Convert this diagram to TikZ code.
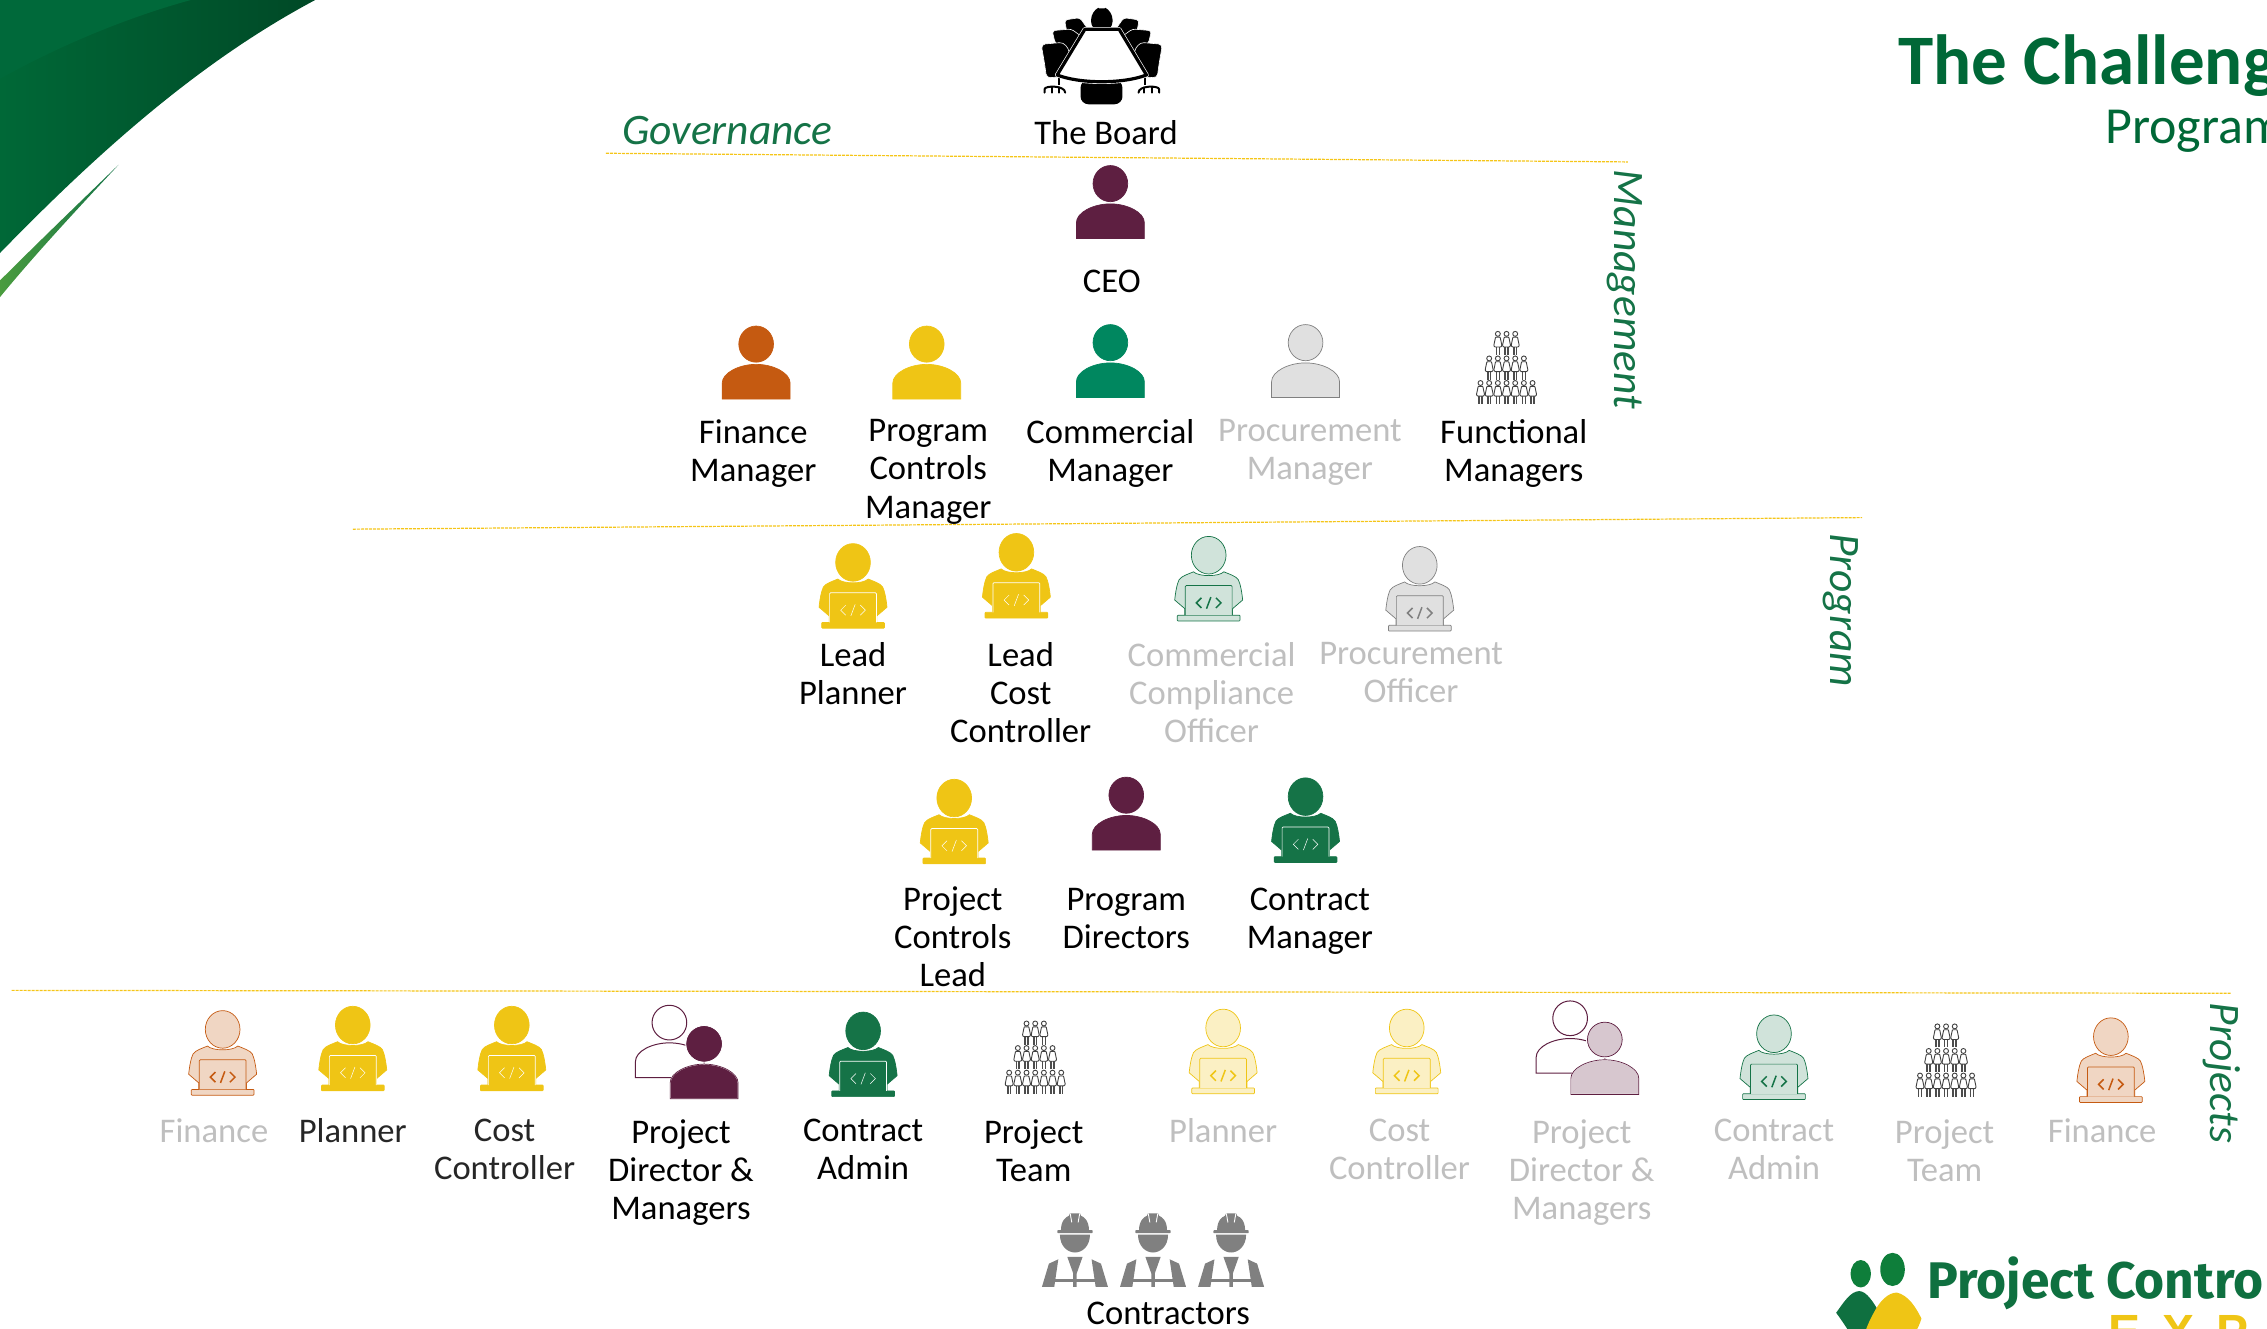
\documentclass[tikz,border=0pt]{standalone}
\usepackage{fontspec}
\setmainfont{Carlito}
\newfontfamily\logofont{Fira Sans}
\newfontfamily\expofont{Liberation Sans}
\definecolor{cPurple}{HTML}{5E1F41}
\definecolor{cOrange}{HTML}{C55A11}
\definecolor{cYellow}{HTML}{EFC515}
\definecolor{cTeal}{HTML}{00875F}
\definecolor{cGreen}{HTML}{157347}
\definecolor{cTitle}{HTML}{006837}
\definecolor{cGrey}{HTML}{BFBFBF}
\definecolor{cLine}{HTML}{F5C518}
\definecolor{cLogo}{HTML}{0F7040}
\definecolor{cStripe}{HTML}{4A9C3F}
\definecolor{cSwoosh}{HTML}{00693A}
\tikzset{
  lbl/.style={anchor=north,inner sep=0pt,align=center,yshift=15pt,text=black,
    font=\fontsize{34.6}{38.2}\selectfont,execute at begin node=\strut},
  lblgrey/.style={lbl,text=cGrey},
  multi/.style={yshift=-3.5pt},
  side/.style={text=cGreen,inner sep=0pt,font=\fontsize{43.5}{48}\selectfont\itshape},
  rule/.style={draw=cLine,line width=1.2pt,dash pattern=on 3pt off 1pt},
  pics/person/.style 2 args={code={
    \path[fill=#1,draw=#2,line width=.7pt] (0,0) ellipse (12 and 12.5);
    \path[fill=#1,draw=#2,line width=.7pt] (-23.5,38) -- (-23.5,27)
      .. controls (-23.5,20) and (-12,14) .. (0,14)
      .. controls (12,14) and (23.5,20) .. (23.5,27) -- (23.5,38) -- cycle;
  }},
  pics/lapper/.style n args={4}{code={
    \path[fill=#1,draw=#2,line width=.7pt] (0,0) ellipse (12 and 13);
    \path[fill=#1,draw=#2,line width=.7pt] (-23.5,31)
      .. controls (-23,26) and (-22,20) .. (-20.5,17)
      .. controls (-19,14.5) and (-14,13) .. (-10.5,11.5)
      .. controls (-7,15) and (7,15) .. (10.5,11.5)
      .. controls (14,13) and (19,14.5) .. (20.5,17)
      .. controls (22,20) and (23,26) .. (23.5,31)
      -- (16.5,37) -- (16.5,42) -- (-16.5,42) -- (-16.5,37) -- cycle;
    \path[fill=#1,draw=#2,line width=.7pt,rounded corners=.8pt] (-21.7,41.5) -- (21.7,41.5) -- (21.7,45.5) -- (-21.7,45.5) -- cycle;
    \path[fill=#1,draw=#3,line width=.7pt,rounded corners=1pt] (-16.2,41.5) -- (-16.2,21) -- (16.2,21) -- (16.2,41.5);
    \draw[#3,line width=#4] (-5,29.5) -- (-8.5,33) -- (-5,36.5);
    \draw[#3,line width=#4] (5,29.5) -- (8.5,33) -- (5,36.5);
    \draw[#3,line width=#4] (1.5,29) -- (-1.5,37);
  }},
  pics/duo/.style 2 args={code={
    \path[fill=white,draw=cPurple,line width=1pt] (-24,-14.7) ellipse (12 and 12);
    \path[fill=white,draw=cPurple,line width=1pt] (-47.5,23.3) -- (-47.5,12.3)
      .. controls (-47.5,5) and (-36,-.7) .. (-24,-.7)
      .. controls (-12,-.7) and (0,5) .. (0,12.3) -- (0,23.3) -- cycle;
    \path[fill=#1,draw=white,line width=1.2pt] (0,0) ellipse (12.6 and 12.6);
    \path[fill=#1,draw=#2,line width=.7pt] (0,0) ellipse (12 and 12);
    \path[fill=#1,draw=white,line width=1pt] (-23.5,38) -- (-23.5,27)
      .. controls (-23.5,20) and (-12,14) .. (0,14)
      .. controls (12,14) and (23.5,20) .. (23.5,27) -- (23.5,38) -- cycle;
    \path[draw=#2,line width=.7pt] (-23.5,38) -- (-23.5,27)
      .. controls (-23.5,20) and (-12,14) .. (0,14)
      .. controls (12,14) and (23.5,20) .. (23.5,27) -- (23.5,38) -- cycle;
  }},
  pics/crowd/.style={code={
    \foreach \r/\n in {0/3,1/5,2/7}{
      \pgfmathsetmacro{\xs}{-(\n-1)*3}
      \foreach \i in {1,...,\n}{
        \begin{scope}[shift={(\xs+6*\i-6,17*\r)}]
          \draw[line width=.9pt,draw=black!75,fill=white] (0,1.9) circle (1.7);
          \draw[line width=1.6pt,draw=black!70] (-1,10) -- (-1,16.5);
          \draw[line width=1.6pt,draw=black!70] (1,10) -- (1,16.5);
          \draw[line width=.9pt,draw=black!75,fill=white,rounded corners=.6pt] (-1.6,4.2) -- (1.6,4.2) -- (2.8,10) -- (2.1,11) -- (-2.1,11) -- (-2.8,10) -- cycle;
        \end{scope}
      }
    }
  }},
  pics/worker/.style={code={
    \fill[black!50] (-9.7,-1) .. controls (-9.7,-8) and (-6,-10.5) .. (-4.3,-11)
      -- (-3.5,-12.7) -- (3.5,-12.7) -- (4.3,-11) .. controls (6,-10.5) and (9.7,-8) .. (9.7,-1) -- cycle;
    \draw[white,line width=.9pt] (-3.3,-12.7) -- (-2.2,-6.5);
    \draw[white,line width=.9pt] (3.3,-12.7) -- (2.2,-6.5);
    \fill[black!50,rounded corners=.6pt] (-12.2,-1.1) rectangle (12.2,.9);
    \fill[black!50] (-10.4,1.9) -- (10.4,1.9) .. controls (10.4,10) and (5,14.3) .. (0,14.3) .. controls (-5,14.3) and (-10.4,10) .. (-10.4,1.9) -- cycle;
    \fill[black!50] (-22.8,38) -- (-18,22) -- (-11.5,19) -- (-14.3,38) -- cycle;
    \fill[black!50] (22.8,38) -- (18,22) -- (11.5,19) -- (14.3,38) -- cycle;
    \fill[black!50] (-5.3,17.3) -- (5.3,17.3) -- (1.2,28.8) -- (1.2,38) -- (-1.2,38) -- (-1.2,28.8) -- cycle;
    \fill[black!50] (-14,32.7) rectangle (14,35);
  }},
  pics/board/.style={code={
    \begin{scope}[x=.3332pt,y=-.3332pt]
      \foreach \m in {1,-1}{
        \begin{scope}[xshift=456*.3332pt,x=\m*.3332pt]
          \path[fill=black,draw=white,line width=.6pt,rounded corners=3pt] (-112,60) -- (-66,53) -- (-40,90) -- (-80,120) -- (-105,95) -- cycle;
          \path[fill=black,draw=white,line width=.6pt,rounded corners=3pt] (-149,92) -- (-92,87) -- (-60,110) -- (-90,160) -- (-140,130) -- cycle;
          \path[fill=black,draw=white,line width=.6pt,rounded corners=4pt] (-182,133) -- (-115,127) -- (-95,155) -- (-120,230) -- (-166,234) -- (-172,190) -- cycle;
          \draw[line width=2pt] (-130,225) -- (-130,256);
          \draw[line width=2pt,line cap=round] (-172,278) -- (-172,268) .. controls (-172,256) and (-110,256) .. (-110,278);
          \draw[line width=2pt,line cap=round] (-150,262) -- (-150,278);
          \draw[line width=2pt,line cap=round] (-128,262) -- (-128,278);
        \end{scope}
      }
      \fill[rounded corners=8pt] (424,90) -- (424,34) .. controls (440,26) and (472,26) .. (488,34) -- (488,90) -- cycle;
      \fill[rounded corners=8pt] (392,240) rectangle (518,313);
      \path[draw=white,line width=4.5pt,line join=round] (405,88) -- (508,88) -- (590,225) .. controls (520,252) and (390,252) .. (322,225) -- cycle;
      \path[fill=white,draw=black,line width=3.2pt,line join=round] (405,88) -- (508,88) -- (590,225) .. controls (520,252) and (390,252) .. (322,225) -- cycle;
    \end{scope}
  }},
}
\begin{document}
\begin{tikzpicture}[x=1.4458pt,y=-1.4458pt]
\useasboundingbox (0,0) rectangle (1568,919);
\begin{scope}
\clip (0,0) rectangle (1568,919);
% swoosh
\shade[left color=cTitle,right color=cTitle!70!black] (0,0) -- (218,0)
  .. controls (139,42) and (69,104) .. (0,175) -- cycle;
\fill[cSwoosh] (0,0) -- (132,0) .. controls (88,12) and (40,32) .. (0,54.6) -- cycle;
\shade[left color=cStripe,right color=cGreen] (0,194)
  .. controls (25,169) and (55,140) .. (82,114)
  .. controls (55,143) and (25,175) .. (0,205.5) -- cycle;
% title
\node[anchor=base west,inner sep=0pt,text=cTitle,font=\fontsize{71}{76}\selectfont\bfseries] (title) at (1313,58.5) {The Challeng};
\node[anchor=base west,inner sep=0pt,text=cTitle,font=\fontsize{52}{56}\selectfont] (subtitle) at (1456,99) {Program};
% rules
\coordinate (g1) at (419,106); \coordinate (g2) at (1126,112);
\coordinate (m1) at (244,366); \coordinate (m2) at (1288,358);
\coordinate (p1) at (8,685);   \coordinate (p2) at (1543,687);
\draw[rule] (g1) -- (g2);
\draw[rule] (m1) -- (m2);
\draw[rule] (p1) -- (p2);
% side labels
\node[side] (gov) at (503,90) {Governance};
\node[side,rotate=-90] (mgmt) at (1124,200) {Management};
\node[side,rotate=-90] (prog) at (1273,422) {Program};
\node[side,rotate=-90] (proj) at (1537,742) {Projects};
% board
\pic at (657,0) {board};
\node[lbl] (nBoard) at (765,92) {The Board};
% management
\pic at (768,127) {person={cPurple}{cPurple}};
\node[lbl] (nCEO) at (769,194) {CEO};
\pic at (523,238) {person={cOrange}{cOrange}};
\node[lbl,multi] (nFin) at (521,298) {Finance\\Manager};
\pic at (641,238) {person={cYellow}{cYellow}};
\node[lbl,multi] (nPCM) at (642,298) {Program\\Controls\\Manager};
\pic at (768,237) {person={cTeal}{cTeal}};
\node[lbl,multi] (nCom) at (768,298) {Commercial\\Manager};
\pic at (903,237) {person={black!12}{black!50}};
\node[lblgrey,multi] (nPro) at (906,298) {Procurement\\Manager};
\pic at (1042,229) {crowd};
\node[lbl,multi] (nFun) at (1047,298) {Functional\\Managers};
% program row 1
\pic at (590,389) {lapper={cYellow}{cYellow}{white}{.5pt}};
\node[lbl,multi] (nLP) at (590,452) {Lead\\Planner};
\pic at (703,382) {lapper={cYellow}{cYellow}{white}{.5pt}};
\node[lbl,multi] (nLC) at (706,452) {Lead\\Cost\\Controller};
\pic at (836,384) {lapper={cGreen!20}{cGreen}{cGreen}{1.5pt}};
\node[lblgrey,multi] (nCCO) at (838,452) {Commercial\\Compliance\\Officer};
\pic at (982,391) {lapper={black!12}{black!50}{black!50}{1.5pt}};
\node[lblgrey,multi] (nPO) at (976,452) {Procurement\\Officer};
% program row 2
\pic at (660,552) {lapper={cYellow}{cYellow}{white}{.5pt}};
\node[lbl,multi] (nPCL) at (659,621) {Project\\Controls\\Lead};
\pic at (779,550) {person={cPurple}{cPurple}};
\node[lbl,multi] (nPD) at (779,622) {Program\\Directors};
\pic at (903,551) {lapper={cGreen}{cGreen}{white}{.5pt}};
\node[lbl,multi] (nCM) at (906,622) {Contract\\Manager};
% projects
\pic at (154,712) {lapper={cOrange!25}{cOrange}{cOrange}{1.5pt}};
\node[lblgrey] (n1) at (148,782) {Finance};
\pic at (244,709) {lapper={cYellow}{cYellow}{white}{.5pt}};
\node[lbl,text=black!85] (n2) at (244,782) {Planner};
\pic at (354,709) {lapper={cYellow}{cYellow}{white}{.5pt}};
\node[lbl,multi,text=black!85] (n3) at (349,782) {Cost\\Controller};
\pic at (487,722) {duo={cPurple}{cPurple}};
\node[lbl,multi] (n4) at (471,782) {Project\\Director \&\\Managers};
\pic at (597,713) {lapper={cGreen}{cGreen}{white}{.5pt}};
\node[lbl,multi] (n5) at (597,782) {Contract\\Admin};
\pic at (716,706) {crowd};
\node[lbl,multi] (n6) at (715,782) {Project\\Team};
\pic at (846,711) {lapper={cYellow!25}{cYellow}{cYellow}{1.5pt}};
\node[lblgrey] (n7) at (846,782) {Planner};
\pic at (973,711) {lapper={cYellow!25}{cYellow}{cYellow}{1.5pt}};
\node[lblgrey,multi] (n8) at (968,782) {Cost\\Controller};
\pic at (1110,719) {duo={cPurple!25}{cPurple}};
\node[lblgrey,multi] (n9) at (1094,782) {Project\\Director \&\\Managers};
\pic at (1227,715) {lapper={cGreen!20}{cGreen}{cGreen}{1.5pt}};
\node[lblgrey,multi] (n10) at (1227,782) {Contract\\Admin};
\pic at (1346,708) {crowd};
\node[lblgrey,multi] (n11) at (1345,782) {Project\\Team};
\pic at (1460,717) {lapper={cOrange!25}{cOrange}{cOrange}{1.5pt}};
\node[lblgrey] (n12) at (1454,782) {Finance};
% contractors
\pic at (743.5,852) {worker};
\pic at (797.5,852) {worker};
\pic at (851.5,852) {worker};
\node[lbl] (nCon) at (808,908) {Contractors};
% logo
\fill[cLogo!90!green] (1287,881) ellipse (7 and 9.5);
\fill[cLogo!90!green] (1309,878) ellipse (8.5 and 11.5);
\fill[cLogo] (1286,893) .. controls (1280,893) and (1275,901) .. (1270,908) .. controls (1276,916) and (1281,925) .. (1286,930) .. controls (1292,925) and (1296,916) .. (1300,908) .. controls (1296,901) and (1291,893) .. (1286,893) -- cycle;
\fill[cYellow] (1312,894) .. controls (1320,896) and (1325,904) .. (1329,912) .. controls (1325,925) and (1315,935) .. (1305,940) -- (1285,940) .. controls (1288,925) and (1292,915) .. (1296,908) .. controls (1300,900) and (1306,894) .. (1312,894) -- cycle;
\node[anchor=base west,inner sep=0pt,text=cLogo,font=\logofont\fontsize{51.5}{54}\selectfont\bfseries] (logoA) at (1333,898) {Project Contro};
\node[anchor=base west,inner sep=0pt,text=cYellow,font=\expofont\fontsize{48}{52}\selectfont\bfseries] (logoB) at (1458,933) {E\kern 22pt X\kern 22pt P};
\end{scope}
\end{tikzpicture}
\end{document}
